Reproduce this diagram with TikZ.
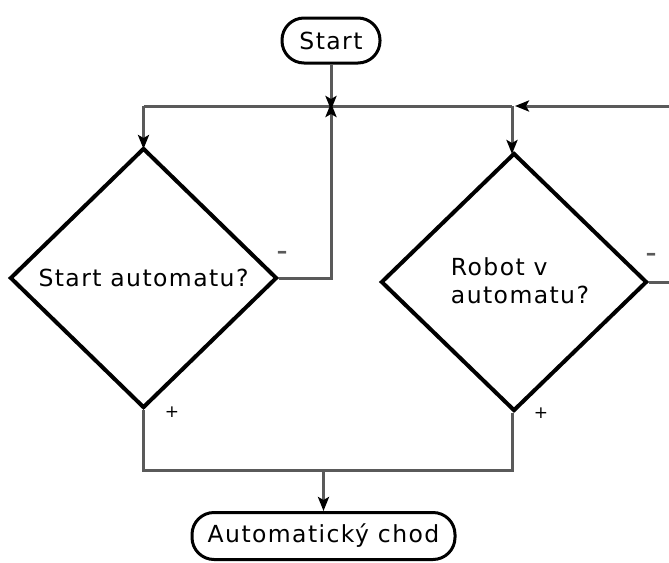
\documentclass[tikz,border=0pt]{standalone}
\usepackage{fontspec}
\setmainfont{DejaVu Sans}[LetterSpace=6.0]
\usetikzlibrary{shapes.geometric,arrows.meta}
\definecolor{linegray}{RGB}{90,90,90}
\tikzset{
  terminal/.style={draw=black, line width=3pt, rounded corners=22pt,
    inner sep=0pt, font=\fontsize{23.5}{27}\selectfont},
  decision/.style={draw=black, line width=4pt, shape=diamond, inner sep=0pt,
    font=\fontsize{23.5}{27}\selectfont},
  conn/.style={draw=linegray, line width=3pt},
  arr/.style={conn, -{Stealth[length=14pt,width=11pt,inset=3pt,color=black]}},
  no label/.style={text=linegray, inner sep=0pt, font=\bfseries\fontsize{21}{22}\selectfont},
  yes label/.style={text=black, inner sep=0pt, font=\fontsize{17}{18}\selectfont},
}
\begin{document}
\begin{tikzpicture}[x=1pt, y=-1pt]
\useasboundingbox (0,0) rectangle (669,562);
\clip (0,0) rectangle (669,562);

% terminals
\node[terminal, minimum width=98pt, minimum height=45pt] (start) at (331,40.5) {Start};
\node[terminal, minimum width=263pt, minimum height=47pt] (auto) at (323.5,536) {Automatický chod};

% decisions
\node[decision, minimum width=267pt, minimum height=260pt] (d1) at (143.5,278) {Start automatu?};
\node[decision, minimum width=266pt, minimum height=258pt] (d2) at (514,282) {};
\node[font=\fontsize{23.5}{28}\selectfont, align=left, inner sep=0pt] (d2text) at (520,281)
  {Robot v\\automatu?};

% junction points
\coordinate (j) at (331,106);
\coordinate (tl) at (143.5,106);
\coordinate (tr) at (512,106);
\coordinate (c1) at (331,278);
\coordinate (off) at (700,106);
\coordinate (e2) at (700,282);
\coordinate (bl) at (143.5,470);
\coordinate (br) at (512,470);
\coordinate (bm) at (323.5,470);

% top rail
\draw[conn] (tl) -- (tr);
\draw[arr] (start) -- ([yshift=-4pt]j);
\draw[arr] (tl) -- ([yshift=-3pt]d1.north);
\draw[arr] (tr) -- ([yshift=-3pt]d2.north -| tr);

% "no" branches
\draw[arr] (d1.east) -- (c1) -- ([yshift=3pt]j);
\draw[arr] (d2.east) -- (e2) -- (off) -- ([xshift=3pt]tr);

% "yes" branches
\draw[conn] (d1.south) -- (bl) -- (br) -- (br |- d2.south);
\draw[arr] (bm) -- (auto.north);

% branch labels
\node[no label] (n1) at (282,255) {–};
\node[no label] (n2) at (651,257) {–};
\node[yes label] (p1) at (172,412) {+};
\node[yes label] (p2) at (541,413) {+};
\end{tikzpicture}
\end{document}
